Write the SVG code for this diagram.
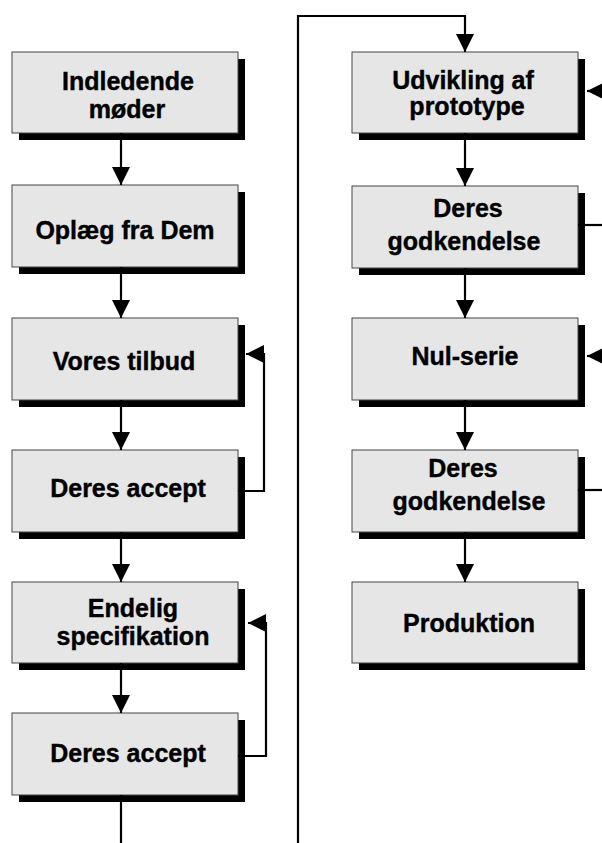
<svg xmlns="http://www.w3.org/2000/svg" width="602" height="843" viewBox="0 0 602 843">
<defs>
<style>
.sh{fill:#000}
.bx{fill:#e6e6e6;stroke:#444;stroke-width:1}
.t{font-family:"Liberation Sans",Arial,sans-serif;font-weight:bold;font-size:25px;fill:#000;text-anchor:middle;stroke:#000;stroke-width:0.4}
.c{fill:none;stroke:#000;stroke-width:2.2}
.a{marker-end:url(#ah)}
</style>
<marker id="ah" viewBox="0 0 18 18" refX="18" refY="9" markerWidth="18" markerHeight="18" markerUnits="userSpaceOnUse" orient="auto">
<path d="M0,0 L18,9 L0,18 z" fill="#000"/>
</marker>
</defs>
<rect width="602" height="843" fill="#fff"/>

<g id="n1"><rect class="sh" x="19" y="59" width="226" height="81"/><rect class="bx" x="12" y="52" width="226" height="81"/>
<text class="t" x="128" y="90">Indledende</text><text class="t" x="127" y="118">møder</text></g>
<g id="n2"><rect class="sh" x="19" y="192" width="226" height="82"/><rect class="bx" x="12" y="185" width="226" height="82"/>
<text class="t" x="125" y="239">Oplæg fra Dem</text></g>
<g id="n3"><rect class="sh" x="19" y="325" width="226" height="82"/><rect class="bx" x="12" y="318" width="226" height="82"/>
<text class="t" x="124" y="370">Vores tilbud</text></g>
<g id="n4"><rect class="sh" x="19" y="457" width="226" height="82"/><rect class="bx" x="12" y="450" width="226" height="82"/>
<text class="t" x="128" y="497">Deres accept</text></g>
<g id="n5"><rect class="sh" x="19" y="589" width="226" height="81"/><rect class="bx" x="12" y="582" width="226" height="81"/>
<text class="t" x="133" y="617">Endelig</text><text class="t" x="133" y="645">specifikation</text></g>
<g id="n6"><rect class="sh" x="19" y="720" width="226" height="82"/><rect class="bx" x="12" y="713" width="226" height="82"/>
<text class="t" x="128" y="762">Deres accept</text></g>

<g id="n7"><rect class="sh" x="359" y="59" width="226" height="81"/><rect class="bx" x="352" y="52" width="226" height="81"/>
<text class="t" x="463" y="89">Udvikling af</text><text class="t" x="467" y="115">prototype</text></g>
<g id="n8"><rect class="sh" x="359" y="193" width="226" height="82"/><rect class="bx" x="352" y="186" width="226" height="82"/>
<text class="t" x="468" y="217">Deres</text><text class="t" x="464" y="250">godkendelse</text></g>
<g id="n9"><rect class="sh" x="359" y="325" width="226" height="82"/><rect class="bx" x="352" y="318" width="226" height="82"/>
<text class="t" x="465" y="365">Nul-serie</text></g>
<g id="n10"><rect class="sh" x="359" y="457" width="226" height="82"/><rect class="bx" x="352" y="450" width="226" height="82"/>
<text class="t" x="463" y="477">Deres</text><text class="t" x="469" y="510">godkendelse</text></g>
<g id="n11"><rect class="sh" x="359" y="589" width="226" height="81"/><rect class="bx" x="352" y="582" width="226" height="81"/>
<text class="t" x="469" y="632">Produktion</text></g>

<g id="connectors">
<path class="c a" d="M121,133 V185"/>
<path class="c a" d="M121,267 V318"/>
<path class="c a" d="M121,400 V450"/>
<path class="c a" d="M121,532 V582"/>
<path class="c a" d="M121,663 V713"/>
<path class="c" d="M121,795 V843"/>
<path class="c a" d="M465,133 V186"/>
<path class="c a" d="M465,268 V318"/>
<path class="c a" d="M465,400 V450"/>
<path class="c a" d="M465,532 V582"/>
<path class="c a" d="M298,843 V16 H465 V52"/>
<path class="c a" d="M238,491 H264 V354 H246"/>
<path class="c a" d="M238,756 H266 V623 H248"/>
<path class="c" d="M578,225 H602"/>
<path class="c" d="M578,490 H602"/>
<path class="c a" d="M606,91 H587"/>
<path class="c a" d="M606,356 H587"/>
</g>
</svg>
